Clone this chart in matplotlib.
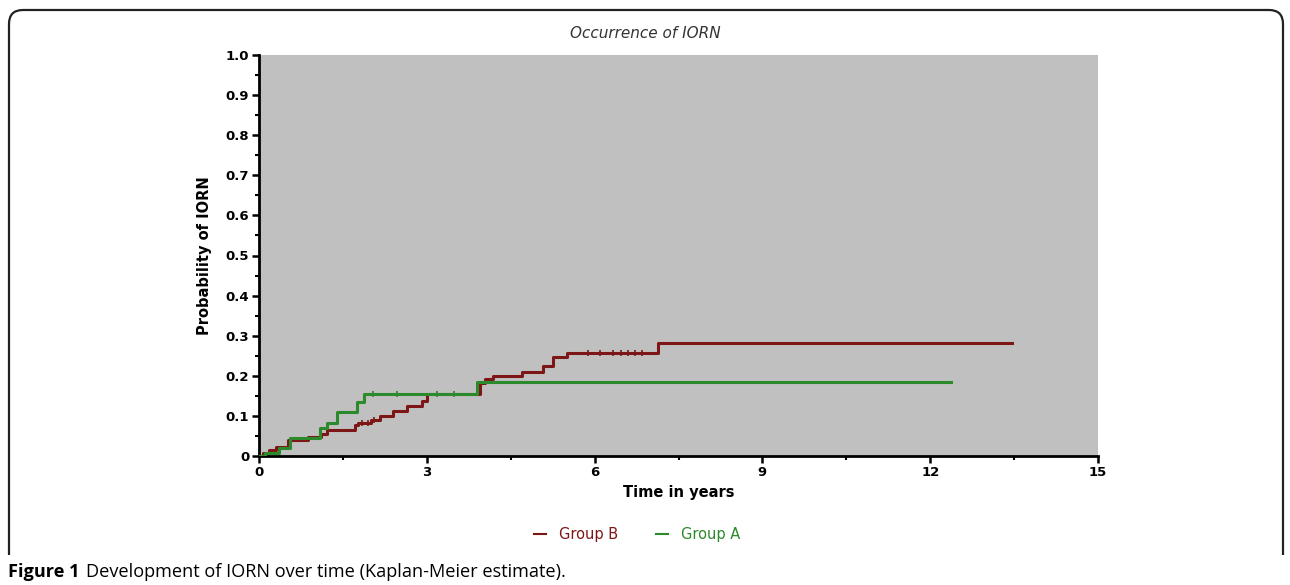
import matplotlib
matplotlib.use("Agg")
import matplotlib.pyplot as plt
from matplotlib.path import Path
from matplotlib.patches import PathPatch
from matplotlib.lines import Line2D
from matplotlib.ticker import MultipleLocator

# ---- data ----
group_b_times = [0, 0.08, 0.18, 0.30, 0.52, 0.88, 1.10, 1.21, 1.72, 1.77, 2.00, 2.16,
                 2.40, 2.64, 2.91, 3.00, 3.95, 4.04, 4.19, 4.71, 5.08, 5.26, 5.50, 7.14]
group_b_values = [0, 0.007, 0.014, 0.022, 0.040, 0.048, 0.056, 0.064, 0.077, 0.083, 0.089, 0.099,
                  0.112, 0.124, 0.137, 0.155, 0.181, 0.192, 0.200, 0.209, 0.225, 0.246, 0.258, 0.283]
group_b_end = 13.46
group_b_censor = [1.85, 1.95, 2.05, 5.89, 6.10, 6.33, 6.48, 6.60, 6.72, 6.84]

group_a_times = [0, 0.11, 0.35, 0.55, 1.09, 1.21, 1.39, 1.75, 1.87, 3.89]
group_a_values = [0, 0.008, 0.019, 0.044, 0.069, 0.082, 0.110, 0.134, 0.155, 0.185]
group_a_end = 12.38
group_a_censor = [2.04, 2.46, 3.18, 3.48]

x_ticks = [0, 3, 6, 9, 12, 15]
y_ticks = [0, 0.1, 0.2, 0.3, 0.4, 0.5, 0.6, 0.7, 0.8, 0.9, 1.0]
y_tick_labels = ["0", "0.1", "0.2", "0.3", "0.4", "0.5", "0.6", "0.7", "0.8", "0.9", "1.0"]

RED = "#7d1616"
GREEN = "#2b8a2b"

W, H = 1290, 585
fig = plt.figure(figsize=(W / 100, H / 100), dpi=100)

# rounded frame (open at the bottom)
x0, x1, yb, yt = 9 / W, 1283 / W, 1 - 555 / H, 1 - 10 / H
rx, ry = 14 / W, 14 / H
verts = [(x0, yb), (x0, yt - ry), (x0, yt), (x0 + rx, yt), (x1 - rx, yt), (x1, yt), (x1, yt - ry), (x1, yb)]
codes = [Path.MOVETO, Path.LINETO, Path.CURVE3, Path.CURVE3, Path.LINETO, Path.CURVE3, Path.CURVE3, Path.LINETO]
fig.patches.append(PathPatch(Path(verts, codes), transform=fig.transFigure, fill=False,
                             edgecolor="#222222", lw=1.6))

ax = fig.add_axes([259 / W, (H - 456) / H, (1098 - 259) / W, (456 - 55) / H])
ax.set_facecolor("#c0c0c0")
for s in ["top", "right"]:
    ax.spines[s].set_visible(False)
for s in ["left", "bottom"]:
    ax.spines[s].set_linewidth(2)
    ax.spines[s].set_color("black")

ax.set_xlim(0, 15)
ax.set_ylim(0, 1)
ax.set_xticks(x_ticks)
ax.set_xticklabels([str(t) for t in x_ticks])
ax.set_yticks(y_ticks)
ax.set_yticklabels(y_tick_labels)
ax.xaxis.set_minor_locator(MultipleLocator(1.5))
ax.yaxis.set_minor_locator(MultipleLocator(0.05))
ax.tick_params(axis="both", which="major", length=5, width=1.8, labelsize=9.5, pad=2)
ax.tick_params(axis="both", which="minor", length=3, width=1.5)
for lab in ax.get_xticklabels() + ax.get_yticklabels():
    lab.set_fontweight("bold")
    lab.set_family("DejaVu Sans")

bx = group_b_times + [group_b_end]
by = group_b_values + [group_b_values[-1]]
axx = group_a_times + [group_a_end]
ayy = group_a_values + [group_a_values[-1]]
ax.step(bx, by, where="post", color=RED, lw=2.2, zorder=3)
ax.step(axx, ayy, where="post", color=GREEN, lw=2.2, zorder=3)


def km_at(times, values, t):
    v = values[0]
    for ti, vi in zip(times, values):
        if ti <= t:
            v = vi
    return v


ax.plot(group_b_censor, [km_at(group_b_times, group_b_values, t) for t in group_b_censor],
        ls="none", marker="|", ms=4, mew=1.2, color=RED, zorder=4)
ax.plot(group_a_censor, [km_at(group_a_times, group_a_values, t) for t in group_a_censor],
        ls="none", marker="|", ms=4, mew=1.2, color=GREEN, zorder=4)

ax.set_xlabel("Time in years", fontsize=10.5, fontweight="bold", family="DejaVu Sans")
ax.set_ylabel("Probability of IORN", fontsize=10.5, fontweight="bold", family="DejaVu Sans")
ax.xaxis.set_label_coords(0.5, (456 - 493) / 401)
ax.yaxis.set_label_coords((205 - 259) / 839, 0.5)
ax.xaxis.label.set_va("center")
ax.yaxis.label.set_va("center")

fig.text(0.5, 1 - 33 / H, "Occurrence of IORN", ha="center", va="center", fontsize=11,
         style="italic", color="#333333", family="DejaVu Sans")

handles = [Line2D([], [], color=RED, lw=1.5), Line2D([], [], color=GREEN, lw=1.5)]
leg = fig.legend(handles, ["Group B", "Group A"], loc="center", bbox_to_anchor=(637 / W, 1 - 535 / H),
                 ncol=2, frameon=False, handlelength=0.8, handletextpad=0.9, columnspacing=2.6,
                 prop={"family": "DejaVu Sans", "size": 10.5})
for txt, c in zip(leg.get_texts(), [RED, GREEN]):
    txt.set_color(c)

t1 = fig.text(8 / W, 1 - 572 / H, "Figure 1", fontsize=13.1, fontweight="bold",
              family="Open Sans", va="center", ha="left")
fig.canvas.draw()
bb = t1.get_window_extent()
fig.text((bb.x1 + 6) / W, 1 - 572 / H, "Development of IORN over time (Kaplan-Meier estimate).",
         fontsize=13.1, family="Open Sans", va="center", ha="left")

fig.savefig("out.png", dpi=100)
